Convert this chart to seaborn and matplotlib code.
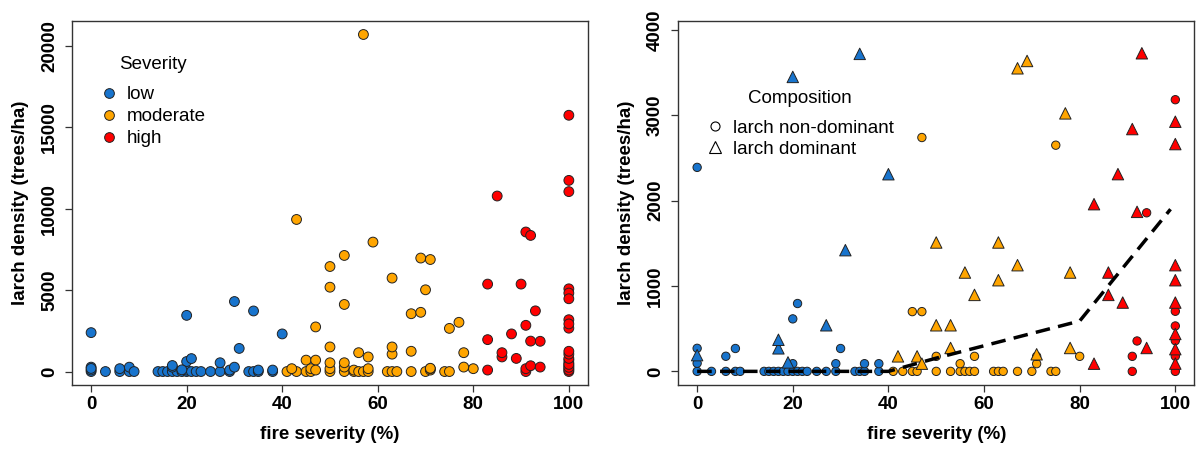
import pandas as pd
import matplotlib
matplotlib.use("Agg")
import matplotlib.pyplot as plt
from matplotlib.lines import Line2D
import seaborn as sns

# severidade baixa (low): não dominante (círculo) e dominante (triângulo)
low_nd_x = [0, 0, 0, 0, 3, 6, 6, 8, 8, 9, 14, 15, 16, 17, 18, 19, 20, 20, 20, 21, 21, 22, 23,
            25, 27, 29, 29, 30, 30, 33, 34, 35, 35, 38, 38]
low_nd_y = [0, 95, 270, 2390, 0, 0, 177, 0, 268, 0, 0, 0, 0, 0, 0, 0, 0, 90, 615, 0, 795, 0, 0,
            0, 0, 0, 90, 268, 4300, 0, 0, 0, 90, 0, 90]
low_d_x = [0, 17, 17, 19, 20, 27, 31, 34, 40]
low_d_y = [190, 270, 370, 105, 3450, 540, 1420, 3720, 2310]

# severidade moderada
mod_nd_x = [41, 43, 45, 45, 46, 47, 47, 50, 50, 53, 55, 55, 56, 57, 58, 58, 62, 63, 64, 67, 70,
            71, 71, 74, 75, 75, 80,
            57, 43, 59, 53, 50, 69, 71, 63, 50, 70, 53]
mod_nd_y = [0, 0, 0, 700, 0, 700, 2740, 0, 176, 0, 0, 90, 0, 0, 0, 176, 0, 0, 0, 0, 0,
            90, 176, 0, 0, 2650, 176,
            20700, 9340, 7950, 7130, 6450, 6970, 6880, 5740, 5180, 5020, 4120]
mod_d_x = [42, 46, 47, 50, 50, 53, 53, 56, 58, 63, 63, 67, 67, 69, 71, 77, 78, 78]
mod_d_y = [176, 176, 90, 540, 1510, 274, 540, 1158, 896, 1068, 1510, 1244, 3551, 3637, 200,
           3023, 274, 1158]

# severidade alta
high_nd_x = [91, 91, 92, 94, 100, 100, 100, 100, 100, 100, 100, 100, 100,
             85, 91, 92, 83, 90, 100, 100, 100]
high_nd_y = [0, 176, 356, 1858, 0, 177, 359, 532, 704, 3183, 15740, 11740, 11050,
             10780, 8570, 8360, 5370, 5370, 5080, 4820, 4470]
high_d_x = [83, 83, 86, 86, 88, 89, 91, 92, 93, 94, 100, 100, 100, 100, 100, 100, 100, 100]
high_d_y = [90, 1959, 896, 1158, 2311, 806, 2839, 1869, 3727, 274, 91, 260, 438, 806, 1068,
            1244, 2663, 2925]

# linha tracejada (tendência)
line_x = [0, 40, 50, 80, 99]
line_y = [0, 0, 155, 590, 1900]

x_ticks = [0, 20, 40, 60, 80, 100]
y_ticks_left = [0, 5000, 10000, 15000, 20000]
y_ticks_right = [0, 1000, 2000, 3000, 4000]

# montar a tabela
partes = []
for sev, comp, xs, ys in [
    ('low', 'non-dominant', low_nd_x, low_nd_y),
    ('low', 'dominant', low_d_x, low_d_y),
    ('moderate', 'non-dominant', mod_nd_x, mod_nd_y),
    ('moderate', 'dominant', mod_d_x, mod_d_y),
    ('high', 'non-dominant', high_nd_x, high_nd_y),
    ('high', 'dominant', high_d_x, high_d_y),
]:
    partes.append(pd.DataFrame({'fire': xs, 'density': ys, 'severity': sev, 'comp': comp}))
dados = pd.concat(partes, ignore_index=True)

cores = {'low': '#1874CD', 'moderate': '#FFA500', 'high': '#FF0000'}
borda = '#222222'

sns.set_style("white")
plt.rcParams['font.family'] = ['Liberation Sans', 'DejaVu Sans']
plt.rcParams['text.color'] = 'black'
plt.rcParams['axes.labelcolor'] = 'black'
plt.rcParams['xtick.color'] = 'black'
plt.rcParams['ytick.color'] = 'black'
fs = 13.5

fig = plt.figure(figsize=(11.96, 4.5), dpi=100)
ax1 = fig.add_axes([0.0602, 0.1444, 0.4314, 0.8089])
ax2 = fig.add_axes([0.5669, 0.1444, 0.4318, 0.8089])

# painel esquerdo
sns.scatterplot(data=dados, x='fire', y='density', hue='severity', palette=cores,
                s=50, edgecolor=borda, linewidth=0.7, legend=False, ax=ax1)

# painel direito (só até 4000 árvores/ha)
zoom = dados[dados['density'] <= 4000]
circ = zoom[zoom['comp'] == 'non-dominant']
tri = zoom[zoom['comp'] == 'dominant']
sns.scatterplot(data=circ, x='fire', y='density', hue='severity', palette=cores,
                s=36, marker='o', edgecolor=borda, linewidth=0.7, legend=False, ax=ax2)
sns.scatterplot(data=tri, x='fire', y='density', hue='severity', palette=cores,
                s=68, marker='^', edgecolor=borda, linewidth=0.7, legend=False, ax=ax2)
sns.lineplot(x=line_x, y=line_y, color='black', linewidth=2.5, linestyle=(0, (4.2, 2.4)),
             estimator=None, sort=False, ax=ax2)

for ax, yt, ylim in [(ax1, y_ticks_left, (-828, 21528)), (ax2, y_ticks_right, (-160, 4105))]:
    ax.set_xlim(-4, 104)
    ax.set_ylim(*ylim)
    ax.set_xticks(x_ticks)
    ax.set_yticks(yt)
    ax.set_xticklabels([str(t) for t in x_ticks], fontweight='bold', fontsize=fs)
    ax.set_yticklabels([str(t) for t in yt], fontweight='bold', fontsize=fs,
                       rotation=90, va='center')
    ax.tick_params(direction='out', length=5, width=0.9, color='#333333',
                   bottom=True, left=True, top=False, right=False)
    ax.tick_params(axis='x', pad=3)
    ax.tick_params(axis='y', pad=5)
    for sp in ax.spines.values():
        sp.set_visible(True)
        sp.set_color('#333333')
        sp.set_linewidth(1.0)
    ax.set_xlabel("fire severity (%)", fontweight='bold', fontsize=fs, labelpad=9)
    ax.set_ylabel("larch density (trees/ha)", fontweight='bold', fontsize=fs, labelpad=9)

# legendas
h_sev = [Line2D([], [], ls='', marker='o', markersize=7, markerfacecolor=cores[k],
                markeredgecolor=borda, markeredgewidth=0.7) for k in ['low', 'moderate', 'high']]
ax1.legend(h_sev, ['low', 'moderate', 'high'], loc='upper left',
           bbox_to_anchor=(0.0535, 0.821), borderaxespad=0, borderpad=0, frameon=False,
           fontsize=fs, handlelength=1.0, handletextpad=0.46, labelspacing=0.26)
ax1.text(0.157, 0.880, 'Severity', transform=ax1.transAxes, ha='center', va='center',
         fontsize=fs)

h_comp = [Line2D([], [], ls='', marker='o', markersize=6.5, markerfacecolor='none',
                 markeredgecolor='black', markeredgewidth=0.8),
          Line2D([], [], ls='', marker='^', markersize=9, markerfacecolor='none',
                 markeredgecolor='black', markeredgewidth=0.8)]
ax2.legend(h_comp, ['larch non-dominant', 'larch dominant'], loc='upper left',
           bbox_to_anchor=(0.053, 0.729), borderaxespad=0, borderpad=0, frameon=False,
           fontsize=fs, handlelength=1.0, handletextpad=0.46, labelspacing=0.22)
ax2.text(0.236, 0.786, 'Composition', transform=ax2.transAxes, ha='center', va='center',
         fontsize=fs)

fig.savefig('out.png', dpi=100)
